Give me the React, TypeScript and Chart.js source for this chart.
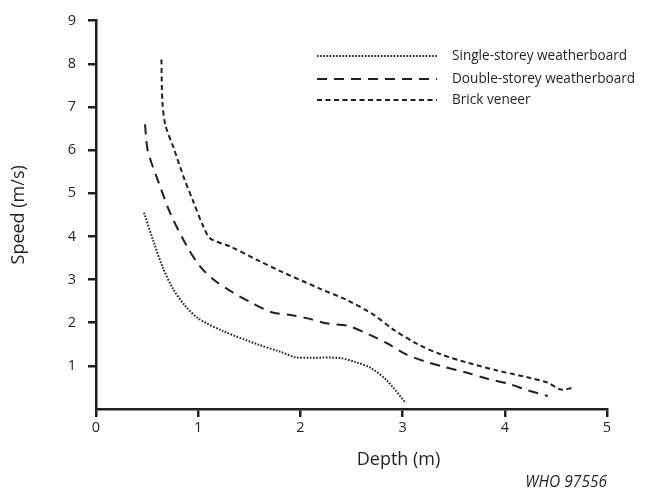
import React, { useEffect, useRef } from "react";
import { Chart, registerables } from "chart.js";

Chart.register(...registerables);

const singleDepth = [0.47, 0.56, 0.65, 0.75, 0.87, 1.0, 1.25, 1.58, 1.8, 1.95, 2.1, 2.39, 2.55, 2.69, 2.85, 3.03];
const singleSpeed = [4.55, 3.9, 3.3, 2.8, 2.4, 2.1, 1.8, 1.5, 1.33, 1.2, 1.19, 1.18, 1.08, 0.95, 0.65, 0.14];

const doubleDepth = [0.48, 0.49, 0.51, 0.63, 0.73, 0.89, 1.02, 1.15, 1.34, 1.51, 1.71, 1.9, 2.07, 2.27, 2.46, 2.67, 2.85, 3.03, 3.21, 3.4, 3.63, 3.83, 4.03, 4.23, 4.42];
const doubleSpeed = [6.6, 6.3, 5.95, 5.14, 4.52, 3.77, 3.3, 3.0, 2.7, 2.48, 2.25, 2.18, 2.1, 1.98, 1.93, 1.73, 1.52, 1.27, 1.11, 0.98, 0.84, 0.7, 0.59, 0.43, 0.3];

const brickDepth = [0.64, 0.65, 0.68, 0.76, 0.86, 0.95, 1.05, 1.12, 1.31, 1.58, 1.8, 2.2, 2.46, 2.72, 2.91, 3.15, 3.37, 3.64, 3.93, 4.23, 4.42, 4.55, 4.68];
const brickSpeed = [8.1, 7.1, 6.57, 6.05, 5.36, 4.82, 4.23, 3.95, 3.77, 3.45, 3.2, 2.78, 2.52, 2.18, 1.84, 1.5, 1.27, 1.07, 0.89, 0.73, 0.61, 0.45, 0.5];

const seriesLabels = ["Single-storey weatherboard", "Double-storey weatherboard", "Brick veneer"];
const xTicks = [0, 1, 2, 3, 4, 5];
const yTicks = [1, 2, 3, 4, 5, 6, 7, 8, 9];
const xTitle = "Depth (m)";
const yTitle = "Speed (m/s)";
const sourceNote = "WHO 97556";

const INK = "#231f20";
const FONT = "'Open Sans', 'DejaVu Sans', sans-serif";
const dashes = [[1.6, 1.6], [10, 7], [5, 3.5]];

function pts(xs: number[], ys: number[]) {
  return xs.map((x, i) => ({ x, y: ys[i] }));
}

const overlay = {
  id: "overlay",
  afterDraw(chart: any) {
    const ctx = chart.ctx;
    const xs = chart.scales.x;
    const area = chart.chartArea;
    ctx.save();
    const lx0 = 317, lx1 = 437, tx = 446;
    const rows = [56, 79, 100];
    seriesLabels.forEach((lab, i) => {
      ctx.beginPath();
      ctx.setLineDash(dashes[i]);
      ctx.lineWidth = 2;
      ctx.strokeStyle = INK;
      ctx.moveTo(lx0, rows[i]);
      ctx.lineTo(lx1, rows[i]);
      ctx.stroke();
      ctx.setLineDash([]);
      ctx.fillStyle = INK;
      ctx.font = `13.6px ${FONT}`;
      ctx.textAlign = "left";
      ctx.textBaseline = "middle";
      ctx.fillText(lab, tx + 6, rows[i]);
    });
    ctx.fillStyle = INK;
    ctx.font = `18px ${FONT}`;
    ctx.textAlign = "center";
    ctx.textBaseline = "middle";
    ctx.fillText(xTitle, xs.getPixelForValue(2.96), 460);
    ctx.save();
    ctx.translate(19, (area.top + area.bottom) / 2);
    ctx.rotate(-Math.PI / 2);
    ctx.fillText(yTitle, 0, 0);
    ctx.restore();
    ctx.font = `italic 15.5px ${FONT}`;
    ctx.textAlign = "right";
    ctx.fillText(sourceNote, area.right, 483);
    ctx.restore();
  },
};

export default function App() {
  const ref = useRef<HTMLCanvasElement>(null);
  useEffect(() => {
    if (!ref.current) return;
    const mk = (i: number, d: any[]) => ({
      label: seriesLabels[i],
      data: d,
      borderColor: INK,
      borderWidth: 2,
      borderDash: dashes[i],
      pointRadius: 0,
      tension: 0.3,
      fill: false,
    });
    const chart = new Chart(ref.current, {
      type: "line",
      data: {
        datasets: [
          mk(0, pts(singleDepth, singleSpeed)),
          mk(1, pts(doubleDepth, doubleSpeed)),
          mk(2, pts(brickDepth, brickSpeed)),
        ],
      },
      options: {
        animation: false,
        responsive: false,
        maintainAspectRatio: false,
        layout: { padding: { left: 0, top: 12, right: 38, bottom: 0 } },
        plugins: { legend: { display: false }, tooltip: { enabled: false } },
        scales: {
          x: {
            type: "linear",
            min: 0,
            max: 5,
            afterBuildTicks: (s: any) => { s.ticks = xTicks.map((v) => ({ value: v })); },
            afterFit: (s: any) => { s.height = 84; },
            ticks: { color: INK, font: { family: FONT, size: 14.5 }, padding: 2, maxRotation: 0 },
            grid: { drawOnChartArea: false, drawTicks: true, tickLength: 8, color: INK, lineWidth: 2.5 },
            border: { display: true, color: INK, width: 2.5 },
          },
          y: {
            type: "linear",
            min: 0,
            max: 9,
            afterBuildTicks: (s: any) => { s.ticks = yTicks.map((v) => ({ value: v })); },
            afterFit: (s: any) => { s.width = 96; },
            ticks: { color: INK, font: { family: FONT, size: 14.5 }, padding: 12 },
            grid: { drawOnChartArea: false, drawTicks: true, tickLength: 8, color: INK, lineWidth: 2.5 },
            border: { display: true, color: INK, width: 2.5 },
          },
        },
      },
      plugins: [overlay],
    });
    return () => chart.destroy();
  }, []);
  return (
    <div style={{ position: "fixed", left: 0, top: 0, width: 645, height: 493, background: "#fff" }}>
      <canvas ref={ref} width={645} height={493} style={{ width: 645, height: 493 }} />
    </div>
  );
}
